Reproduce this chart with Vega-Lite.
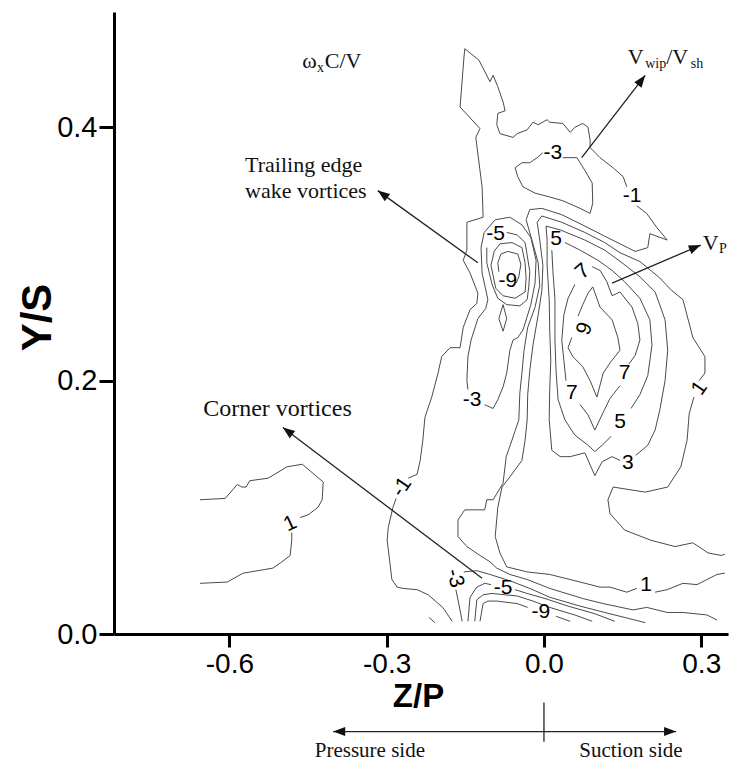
{
"$schema":"https://vega.github.io/schema/vega-lite/v6.json",
"width":614,"height":622,"autosize":{"type":"none"},
"padding":{"left":114,"top":12,"right":8,"bottom":129},
"background":"white",
"config":{"view":{"stroke":null},"axis":{"grid":false,"domainColor":"#000","domainWidth":3,"tickColor":"#000","tickWidth":3,"labelColor":"#000","labelFont":"Liberation Sans","labelFontSize":29,"titleFont":"Liberation Sans","titleColor":"#000","titleFontWeight":"bold"}},
"datasets":{
"lines":[
{"g":"c1a","o":1,"x":-0.656,"y":0.106},{"g":"c1a","o":2,"x":-0.608,"y":0.107},{"g":"c1a","o":3,"x":-0.585,"y":0.118},{"g":"c1a","o":4,"x":-0.576,"y":0.116},{"g":"c1a","o":5,"x":-0.568,"y":0.116},{"g":"c1a","o":6,"x":-0.561,"y":0.121},{"g":"c1a","o":7,"x":-0.526,"y":0.123},{"g":"c1a","o":8,"x":-0.490,"y":0.132},{"g":"c1a","o":9,"x":-0.461,"y":0.134},{"g":"c1a","o":10,"x":-0.421,"y":0.120},{"g":"c1a","o":11,"x":-0.423,"y":0.106},{"g":"c1a","o":12,"x":-0.431,"y":0.100},{"g":"c1a","o":13,"x":-0.450,"y":0.094},{"g":"c1a","o":14,"x":-0.465,"y":0.092},
{"g":"c1b","o":1,"x":-0.481,"y":0.080},{"g":"c1b","o":2,"x":-0.481,"y":0.074},{"g":"c1b","o":3,"x":-0.484,"y":0.062},{"g":"c1b","o":4,"x":-0.503,"y":0.056},{"g":"c1b","o":5,"x":-0.517,"y":0.052},{"g":"c1b","o":6,"x":-0.574,"y":0.048},{"g":"c1b","o":7,"x":-0.604,"y":0.041},{"g":"c1b","o":8,"x":-0.656,"y":0.040},
{"g":"m1a","o":1,"x":-0.175,"y":0.010},{"g":"m1a","o":2,"x":-0.193,"y":0.021},{"g":"m1a","o":3,"x":-0.221,"y":0.031},{"g":"m1a","o":4,"x":-0.242,"y":0.035},{"g":"m1a","o":5,"x":-0.269,"y":0.036},{"g":"m1a","o":6,"x":-0.280,"y":0.037},{"g":"m1a","o":7,"x":-0.290,"y":0.043},{"g":"m1a","o":8,"x":-0.299,"y":0.074},{"g":"m1a","o":9,"x":-0.297,"y":0.084},{"g":"m1a","o":10,"x":-0.288,"y":0.100},{"g":"m1a","o":11,"x":-0.282,"y":0.107},
{"g":"m1b","o":1,"x":-0.259,"y":0.123},{"g":"m1b","o":2,"x":-0.242,"y":0.126},{"g":"m1b","o":3,"x":-0.236,"y":0.137},{"g":"m1b","o":4,"x":-0.231,"y":0.153},{"g":"m1b","o":5,"x":-0.227,"y":0.171},{"g":"m1b","o":6,"x":-0.214,"y":0.187},{"g":"m1b","o":7,"x":-0.202,"y":0.206},{"g":"m1b","o":8,"x":-0.195,"y":0.219},{"g":"m1b","o":9,"x":-0.179,"y":0.226},{"g":"m1b","o":10,"x":-0.160,"y":0.226},{"g":"m1b","o":11,"x":-0.154,"y":0.242},{"g":"m1b","o":12,"x":-0.141,"y":0.256},{"g":"m1b","o":13,"x":-0.128,"y":0.261},{"g":"m1b","o":14,"x":-0.126,"y":0.269},{"g":"m1b","o":15,"x":-0.141,"y":0.285},{"g":"m1b","o":16,"x":-0.154,"y":0.295},{"g":"m1b","o":17,"x":-0.147,"y":0.303},{"g":"m1b","o":18,"x":-0.147,"y":0.325},{"g":"m1b","o":19,"x":-0.116,"y":0.329},{"g":"m1b","o":20,"x":-0.118,"y":0.353},{"g":"m1b","o":21,"x":-0.130,"y":0.392},{"g":"m1b","o":22,"x":-0.122,"y":0.399},{"g":"m1b","o":23,"x":-0.160,"y":0.416},{"g":"m1b","o":24,"x":-0.153,"y":0.453},{"g":"m1b","o":25,"x":-0.151,"y":0.462},{"g":"m1b","o":26,"x":-0.124,"y":0.453},{"g":"m1b","o":27,"x":-0.103,"y":0.436},{"g":"m1b","o":28,"x":-0.097,"y":0.441},{"g":"m1b","o":29,"x":-0.088,"y":0.432},{"g":"m1b","o":30,"x":-0.078,"y":0.420},{"g":"m1b","o":31,"x":-0.074,"y":0.413},{"g":"m1b","o":32,"x":-0.088,"y":0.411},{"g":"m1b","o":33,"x":-0.090,"y":0.402},{"g":"m1b","o":34,"x":-0.084,"y":0.395},{"g":"m1b","o":35,"x":-0.059,"y":0.392},{"g":"m1b","o":36,"x":-0.051,"y":0.395},{"g":"m1b","o":37,"x":-0.032,"y":0.398},{"g":"m1b","o":38,"x":-0.021,"y":0.404},{"g":"m1b","o":39,"x":-0.011,"y":0.402},{"g":"m1b","o":40,"x":0.006,"y":0.406},{"g":"m1b","o":41,"x":0.011,"y":0.404},{"g":"m1b","o":42,"x":0.036,"y":0.403},{"g":"m1b","o":43,"x":0.050,"y":0.396},{"g":"m1b","o":44,"x":0.059,"y":0.400},{"g":"m1b","o":45,"x":0.074,"y":0.403},{"g":"m1b","o":46,"x":0.084,"y":0.400},{"g":"m1b","o":47,"x":0.088,"y":0.390},{"g":"m1b","o":48,"x":0.088,"y":0.384},{"g":"m1b","o":49,"x":0.107,"y":0.376},{"g":"m1b","o":50,"x":0.132,"y":0.368},{"g":"m1b","o":51,"x":0.151,"y":0.361},{"g":"m1b","o":52,"x":0.158,"y":0.353},
{"g":"m1c","o":1,"x":0.177,"y":0.338},{"g":"m1c","o":2,"x":0.196,"y":0.332},{"g":"m1c","o":3,"x":0.215,"y":0.321},{"g":"m1c","o":4,"x":0.235,"y":0.311},{"g":"m1c","o":5,"x":0.202,"y":0.316},{"g":"m1c","o":6,"x":0.198,"y":0.305},{"g":"m1c","o":7,"x":0.174,"y":0.302},{"g":"m1c","o":8,"x":0.145,"y":0.308},{"g":"m1c","o":9,"x":0.116,"y":0.314},{"g":"m1c","o":10,"x":0.078,"y":0.322},{"g":"m1c","o":11,"x":0.034,"y":0.331},{"g":"m1c","o":12,"x":-0.004,"y":0.336},{"g":"m1c","o":13,"x":-0.027,"y":0.335},{"g":"m1c","o":14,"x":-0.034,"y":0.327},{"g":"m1c","o":15,"x":-0.023,"y":0.311},{"g":"m1c","o":16,"x":-0.011,"y":0.293},{"g":"m1c","o":17,"x":-0.008,"y":0.275},{"g":"m1c","o":18,"x":-0.017,"y":0.258},{"g":"m1c","o":19,"x":-0.031,"y":0.242},{"g":"m1c","o":20,"x":-0.038,"y":0.224},{"g":"m1c","o":21,"x":-0.042,"y":0.206},{"g":"m1c","o":22,"x":-0.046,"y":0.190},{"g":"m1c","o":23,"x":-0.048,"y":0.169},{"g":"m1c","o":24,"x":-0.061,"y":0.153},{"g":"m1c","o":25,"x":-0.072,"y":0.140},{"g":"m1c","o":26,"x":-0.078,"y":0.119},{"g":"m1c","o":27,"x":-0.097,"y":0.106},{"g":"m1c","o":28,"x":-0.109,"y":0.106},{"g":"m1c","o":29,"x":-0.113,"y":0.098},{"g":"m1c","o":30,"x":-0.151,"y":0.098},{"g":"m1c","o":31,"x":-0.164,"y":0.090},{"g":"m1c","o":32,"x":-0.164,"y":0.077},{"g":"m1c","o":33,"x":-0.147,"y":0.069},{"g":"m1c","o":34,"x":-0.122,"y":0.062},{"g":"m1c","o":35,"x":-0.103,"y":0.057},{"g":"m1c","o":36,"x":-0.090,"y":0.052},{"g":"m1c","o":37,"x":-0.065,"y":0.047},{"g":"m1c","o":38,"x":-0.032,"y":0.043},{"g":"m1c","o":39,"x":0.011,"y":0.036},{"g":"m1c","o":40,"x":0.074,"y":0.028},{"g":"m1c","o":41,"x":0.113,"y":0.024},{"g":"m1c","o":42,"x":0.170,"y":0.019},{"g":"m1c","o":43,"x":0.196,"y":0.021},{"g":"m1c","o":44,"x":0.235,"y":0.017},{"g":"m1c","o":45,"x":0.265,"y":0.017},{"g":"m1c","o":46,"x":0.311,"y":0.015},{"g":"m1c","o":47,"x":0.330,"y":0.011},
{"g":"p1a","o":1,"x":0.345,"y":0.048},{"g":"p1a","o":2,"x":0.330,"y":0.047},{"g":"p1a","o":3,"x":0.311,"y":0.043},{"g":"p1a","o":4,"x":0.292,"y":0.039},{"g":"p1a","o":5,"x":0.265,"y":0.040},{"g":"p1a","o":6,"x":0.235,"y":0.035},{"g":"p1a","o":7,"x":0.212,"y":0.033},
{"g":"p1b","o":1,"x":0.177,"y":0.036},{"g":"p1b","o":2,"x":0.158,"y":0.033},{"g":"p1b","o":3,"x":0.126,"y":0.037},{"g":"p1b","o":4,"x":0.107,"y":0.037},{"g":"p1b","o":5,"x":0.050,"y":0.043},{"g":"p1b","o":6,"x":0.011,"y":0.047},{"g":"p1b","o":7,"x":-0.032,"y":0.049},{"g":"p1b","o":8,"x":-0.071,"y":0.053},{"g":"p1b","o":9,"x":-0.084,"y":0.064},{"g":"p1b","o":10,"x":-0.093,"y":0.077},{"g":"p1b","o":11,"x":-0.088,"y":0.100},{"g":"p1b","o":12,"x":-0.080,"y":0.116},{"g":"p1b","o":13,"x":-0.065,"y":0.124},{"g":"p1b","o":14,"x":-0.042,"y":0.137},{"g":"p1b","o":15,"x":-0.036,"y":0.153},{"g":"p1b","o":16,"x":-0.032,"y":0.169},{"g":"p1b","o":17,"x":-0.031,"y":0.189},{"g":"p1b","o":18,"x":-0.027,"y":0.208},{"g":"p1b","o":19,"x":-0.021,"y":0.228},{"g":"p1b","o":20,"x":-0.011,"y":0.252},{"g":"p1b","o":21,"x":-0.004,"y":0.271},{"g":"p1b","o":22,"x":-0.002,"y":0.291},{"g":"p1b","o":23,"x":-0.008,"y":0.311},{"g":"p1b","o":24,"x":-0.013,"y":0.325},{"g":"p1b","o":25,"x":-0.004,"y":0.330},{"g":"p1b","o":26,"x":0.034,"y":0.325},{"g":"p1b","o":27,"x":0.078,"y":0.317},{"g":"p1b","o":28,"x":0.116,"y":0.309},{"g":"p1b","o":29,"x":0.145,"y":0.301},{"g":"p1b","o":30,"x":0.183,"y":0.294},{"g":"p1b","o":31,"x":0.221,"y":0.281},{"g":"p1b","o":32,"x":0.244,"y":0.271},{"g":"p1b","o":33,"x":0.265,"y":0.264},{"g":"p1b","o":34,"x":0.284,"y":0.234},{"g":"p1b","o":35,"x":0.307,"y":0.219},{"g":"p1b","o":36,"x":0.307,"y":0.206},{"g":"p1b","o":37,"x":0.296,"y":0.200},
{"g":"p1c","o":1,"x":0.286,"y":0.187},{"g":"p1c","o":2,"x":0.277,"y":0.174},{"g":"p1c","o":3,"x":0.273,"y":0.153},{"g":"p1c","o":4,"x":0.261,"y":0.132},{"g":"p1c","o":5,"x":0.236,"y":0.116},{"g":"p1c","o":6,"x":0.193,"y":0.112},{"g":"p1c","o":7,"x":0.132,"y":0.116},{"g":"p1c","o":8,"x":0.122,"y":0.106},{"g":"p1c","o":9,"x":0.126,"y":0.095},{"g":"p1c","o":10,"x":0.154,"y":0.082},{"g":"p1c","o":11,"x":0.204,"y":0.074},{"g":"p1c","o":12,"x":0.250,"y":0.069},{"g":"p1c","o":13,"x":0.284,"y":0.072},{"g":"p1c","o":14,"x":0.313,"y":0.064},{"g":"p1c","o":15,"x":0.338,"y":0.062},{"g":"p1c","o":16,"x":0.345,"y":0.063},
{"g":"p3","o":1,"x":0.175,"y":0.141},{"g":"p3","o":2,"x":0.198,"y":0.149},{"g":"p3","o":3,"x":0.212,"y":0.161},{"g":"p3","o":4,"x":0.221,"y":0.177},{"g":"p3","o":5,"x":0.231,"y":0.200},{"g":"p3","o":6,"x":0.236,"y":0.224},{"g":"p3","o":7,"x":0.231,"y":0.248},{"g":"p3","o":8,"x":0.212,"y":0.270},{"g":"p3","o":9,"x":0.183,"y":0.282},{"g":"p3","o":10,"x":0.149,"y":0.293},{"g":"p3","o":11,"x":0.116,"y":0.303},{"g":"p3","o":12,"x":0.078,"y":0.311},{"g":"p3","o":13,"x":0.031,"y":0.319},{"g":"p3","o":14,"x":0.004,"y":0.322},{"g":"p3","o":15,"x":0.006,"y":0.311},{"g":"p3","o":16,"x":0.006,"y":0.291},{"g":"p3","o":17,"x":0.010,"y":0.264},{"g":"p3","o":18,"x":0.011,"y":0.240},{"g":"p3","o":19,"x":0.013,"y":0.216},{"g":"p3","o":20,"x":0.011,"y":0.193},{"g":"p3","o":21,"x":0.010,"y":0.169},{"g":"p3","o":22,"x":0.015,"y":0.145},{"g":"p3","o":23,"x":0.031,"y":0.140},{"g":"p3","o":24,"x":0.050,"y":0.140},{"g":"p3","o":25,"x":0.078,"y":0.143},{"g":"p3","o":26,"x":0.097,"y":0.125},{"g":"p3","o":27,"x":0.111,"y":0.136},{"g":"p3","o":28,"x":0.130,"y":0.140},{"g":"p3","o":29,"x":0.145,"y":0.137},
{"g":"p5a","o":1,"x":0.040,"y":0.309},{"g":"p5a","o":2,"x":0.069,"y":0.303},{"g":"p5a","o":3,"x":0.103,"y":0.295},{"g":"p5a","o":4,"x":0.130,"y":0.287},{"g":"p5a","o":5,"x":0.154,"y":0.278},{"g":"p5a","o":6,"x":0.183,"y":0.265},{"g":"p5a","o":7,"x":0.202,"y":0.248},{"g":"p5a","o":8,"x":0.206,"y":0.228},{"g":"p5a","o":9,"x":0.198,"y":0.204},{"g":"p5a","o":10,"x":0.183,"y":0.189},{"g":"p5a","o":11,"x":0.166,"y":0.178},
{"g":"p5b","o":1,"x":0.128,"y":0.156},{"g":"p5b","o":2,"x":0.111,"y":0.149},{"g":"p5b","o":3,"x":0.097,"y":0.144},{"g":"p5b","o":4,"x":0.084,"y":0.149},{"g":"p5b","o":5,"x":0.059,"y":0.157},{"g":"p5b","o":6,"x":0.040,"y":0.169},{"g":"p5b","o":7,"x":0.027,"y":0.185},{"g":"p5b","o":8,"x":0.023,"y":0.208},{"g":"p5b","o":9,"x":0.021,"y":0.232},{"g":"p5b","o":10,"x":0.021,"y":0.264},{"g":"p5b","o":11,"x":0.017,"y":0.287},{"g":"p5b","o":12,"x":0.015,"y":0.303},
{"g":"p7a","o":1,"x":0.092,"y":0.290},{"g":"p7a","o":2,"x":0.107,"y":0.287},{"g":"p7a","o":3,"x":0.120,"y":0.278},{"g":"p7a","o":4,"x":0.130,"y":0.267},{"g":"p7a","o":5,"x":0.145,"y":0.270},{"g":"p7a","o":6,"x":0.168,"y":0.258},{"g":"p7a","o":7,"x":0.179,"y":0.245},{"g":"p7a","o":8,"x":0.183,"y":0.232},{"g":"p7a","o":9,"x":0.174,"y":0.220},{"g":"p7a","o":10,"x":0.162,"y":0.213},
{"g":"p7b","o":1,"x":0.145,"y":0.196},{"g":"p7b","o":2,"x":0.126,"y":0.186},{"g":"p7b","o":3,"x":0.113,"y":0.175},{"g":"p7b","o":4,"x":0.097,"y":0.161},{"g":"p7b","o":5,"x":0.084,"y":0.173},{"g":"p7b","o":6,"x":0.069,"y":0.181},
{"g":"p7c","o":1,"x":0.042,"y":0.200},{"g":"p7c","o":2,"x":0.038,"y":0.216},{"g":"p7c","o":3,"x":0.034,"y":0.232},{"g":"p7c","o":4,"x":0.038,"y":0.252},{"g":"p7c","o":5,"x":0.046,"y":0.265},{"g":"p7c","o":6,"x":0.059,"y":0.276},
{"g":"p9","o":1,"x":0.065,"y":0.251},{"g":"p9","o":2,"x":0.074,"y":0.260},{"g":"p9","o":3,"x":0.084,"y":0.269},{"g":"p9","o":4,"x":0.093,"y":0.274},{"g":"p9","o":5,"x":0.107,"y":0.258},{"g":"p9","o":6,"x":0.130,"y":0.248},{"g":"p9","o":7,"x":0.141,"y":0.234},{"g":"p9","o":8,"x":0.145,"y":0.224},{"g":"p9","o":9,"x":0.126,"y":0.214},{"g":"p9","o":10,"x":0.113,"y":0.206},{"g":"p9","o":11,"x":0.101,"y":0.187},{"g":"p9","o":12,"x":0.088,"y":0.200},{"g":"p9","o":13,"x":0.074,"y":0.211},{"g":"p9","o":14,"x":0.055,"y":0.219},{"g":"p9","o":15,"x":0.046,"y":0.226},{"g":"p9","o":16,"x":0.053,"y":0.234},
{"g":"m5","o":1,"x":-0.071,"y":0.317},{"g":"m5","o":2,"x":-0.051,"y":0.315},{"g":"m5","o":3,"x":-0.036,"y":0.309},{"g":"m5","o":4,"x":-0.032,"y":0.299},{"g":"m5","o":5,"x":-0.027,"y":0.286},{"g":"m5","o":6,"x":-0.029,"y":0.274},{"g":"m5","o":7,"x":-0.032,"y":0.264},{"g":"m5","o":8,"x":-0.046,"y":0.259},{"g":"m5","o":9,"x":-0.071,"y":0.260},{"g":"m5","o":10,"x":-0.088,"y":0.265},{"g":"m5","o":11,"x":-0.099,"y":0.276},{"g":"m5","o":12,"x":-0.109,"y":0.293},{"g":"m5","o":13,"x":-0.109,"y":0.305},
{"g":"m7","o":1,"x":-0.084,"y":0.308},{"g":"m7","o":2,"x":-0.061,"y":0.309},{"g":"m7","o":3,"x":-0.042,"y":0.305},{"g":"m7","o":4,"x":-0.036,"y":0.293},{"g":"m7","o":5,"x":-0.034,"y":0.281},{"g":"m7","o":6,"x":-0.036,"y":0.270},{"g":"m7","o":7,"x":-0.055,"y":0.265},{"g":"m7","o":8,"x":-0.078,"y":0.267},{"g":"m7","o":9,"x":-0.092,"y":0.273},{"g":"m7","o":10,"x":-0.101,"y":0.291},{"g":"m7","o":11,"x":-0.095,"y":0.302},{"g":"m7","o":12,"x":-0.084,"y":0.308},
{"g":"m9","o":1,"x":-0.053,"y":0.277},{"g":"m9","o":2,"x":-0.048,"y":0.282},{"g":"m9","o":3,"x":-0.044,"y":0.292},{"g":"m9","o":4,"x":-0.050,"y":0.300},{"g":"m9","o":5,"x":-0.069,"y":0.302},{"g":"m9","o":6,"x":-0.082,"y":0.300},{"g":"m9","o":7,"x":-0.088,"y":0.293},{"g":"m9","o":8,"x":-0.086,"y":0.286},
{"g":"dm","o":1,"x":-0.078,"y":0.260},{"g":"dm","o":2,"x":-0.071,"y":0.249},{"g":"dm","o":3,"x":-0.078,"y":0.239},{"g":"dm","o":4,"x":-0.086,"y":0.249},{"g":"dm","o":5,"x":-0.078,"y":0.260},
{"g":"m3","o":1,"x":-0.113,"y":0.181},{"g":"m3","o":2,"x":-0.097,"y":0.178},{"g":"m3","o":3,"x":-0.088,"y":0.185},{"g":"m3","o":4,"x":-0.078,"y":0.195},{"g":"m3","o":5,"x":-0.071,"y":0.206},{"g":"m3","o":6,"x":-0.065,"y":0.224},{"g":"m3","o":7,"x":-0.059,"y":0.232},{"g":"m3","o":8,"x":-0.050,"y":0.234},{"g":"m3","o":9,"x":-0.040,"y":0.240},{"g":"m3","o":10,"x":-0.025,"y":0.260},{"g":"m3","o":11,"x":-0.017,"y":0.277},{"g":"m3","o":12,"x":-0.015,"y":0.295},{"g":"m3","o":13,"x":-0.025,"y":0.313},{"g":"m3","o":14,"x":-0.042,"y":0.323},{"g":"m3","o":15,"x":-0.065,"y":0.329},{"g":"m3","o":16,"x":-0.093,"y":0.327},{"g":"m3","o":17,"x":-0.114,"y":0.317},{"g":"m3","o":18,"x":-0.120,"y":0.305},{"g":"m3","o":19,"x":-0.118,"y":0.285},{"g":"m3","o":20,"x":-0.107,"y":0.264},{"g":"m3","o":21,"x":-0.111,"y":0.257},{"g":"m3","o":22,"x":-0.126,"y":0.249},{"g":"m3","o":23,"x":-0.139,"y":0.232},{"g":"m3","o":24,"x":-0.145,"y":0.219},{"g":"m3","o":25,"x":-0.147,"y":0.200},{"g":"m3","o":26,"x":-0.145,"y":0.193},
{"g":"u3","o":1,"x":0.036,"y":0.376},{"g":"u3","o":2,"x":0.063,"y":0.376},{"g":"u3","o":3,"x":0.078,"y":0.366},{"g":"u3","o":4,"x":0.092,"y":0.356},{"g":"u3","o":5,"x":0.093,"y":0.340},{"g":"u3","o":6,"x":0.088,"y":0.332},{"g":"u3","o":7,"x":0.069,"y":0.336},{"g":"u3","o":8,"x":0.036,"y":0.342},{"g":"u3","o":9,"x":0.011,"y":0.345},{"g":"u3","o":10,"x":-0.017,"y":0.348},{"g":"u3","o":11,"x":-0.040,"y":0.353},{"g":"u3","o":12,"x":-0.050,"y":0.361},{"g":"u3","o":13,"x":-0.055,"y":0.368},{"g":"u3","o":14,"x":-0.042,"y":0.372},{"g":"u3","o":15,"x":-0.027,"y":0.372},{"g":"u3","o":16,"x":-0.013,"y":0.376},{"g":"u3","o":17,"x":-0.002,"y":0.380},
{"g":"k3a","o":1,"x":-0.168,"y":0.035},{"g":"k3a","o":2,"x":-0.162,"y":0.023},{"g":"k3a","o":3,"x":-0.156,"y":0.010},
{"g":"k3b","o":1,"x":-0.153,"y":0.049},{"g":"k3b","o":2,"x":-0.128,"y":0.050},{"g":"k3b","o":3,"x":-0.103,"y":0.047},{"g":"k3b","o":4,"x":-0.065,"y":0.042},{"g":"k3b","o":5,"x":-0.027,"y":0.036},{"g":"k3b","o":6,"x":0.011,"y":0.029},{"g":"k3b","o":7,"x":0.069,"y":0.022},{"g":"k3b","o":8,"x":0.116,"y":0.017},{"g":"k3b","o":9,"x":0.164,"y":0.012},{"g":"k3b","o":10,"x":0.193,"y":0.009},
{"g":"k5a","o":1,"x":-0.145,"y":0.010},{"g":"k5a","o":2,"x":-0.141,"y":0.029},{"g":"k5a","o":3,"x":-0.128,"y":0.037},{"g":"k5a","o":4,"x":-0.113,"y":0.040},{"g":"k5a","o":5,"x":-0.101,"y":0.039},
{"g":"k5b","o":1,"x":-0.055,"y":0.035},{"g":"k5b","o":2,"x":-0.032,"y":0.032},{"g":"k5b","o":3,"x":0.002,"y":0.028},{"g":"k5b","o":4,"x":0.046,"y":0.022},{"g":"k5b","o":5,"x":0.097,"y":0.016},{"g":"k5b","o":6,"x":0.135,"y":0.010},
{"g":"k7","o":1,"x":-0.132,"y":0.010},{"g":"k7","o":2,"x":-0.128,"y":0.027},{"g":"k7","o":3,"x":-0.116,"y":0.031},{"g":"k7","o":4,"x":-0.099,"y":0.032},{"g":"k7","o":5,"x":-0.051,"y":0.030},{"g":"k7","o":6,"x":-0.021,"y":0.026},{"g":"k7","o":7,"x":0.011,"y":0.021},{"g":"k7","o":8,"x":0.059,"y":0.015},{"g":"k7","o":9,"x":0.092,"y":0.010},
{"g":"k9a","o":1,"x":-0.122,"y":0.010},{"g":"k9a","o":2,"x":-0.116,"y":0.024},{"g":"k9a","o":3,"x":-0.107,"y":0.026},{"g":"k9a","o":4,"x":-0.090,"y":0.026},{"g":"k9a","o":5,"x":-0.051,"y":0.024},{"g":"k9a","o":6,"x":-0.031,"y":0.021},
{"g":"k9b","o":1,"x":0.023,"y":0.014},{"g":"k9b","o":2,"x":0.050,"y":0.010},
{"g":"tn","o":1,"x":-0.219,"y":0.013},{"g":"tn","o":2,"x":-0.208,"y":0.009}
],
"labels":[
{"id":"a1","t":"1","x":-0.484,"y":0.087},{"id":"a2","t":"-1","x":-0.271,"y":0.116},{"id":"a3","t":"-1","x":0.168,"y":0.346},{"id":"a4","t":"-3","x":0.017,"y":0.380},{"id":"a5","t":"-5","x":-0.092,"y":0.316},{"id":"a6","t":"-9","x":-0.069,"y":0.279},{"id":"a7","t":"5","x":0.023,"y":0.312},{"id":"a8","t":"7","x":0.074,"y":0.286},{"id":"a9","t":"9","x":0.078,"y":0.241},{"id":"a10","t":"7","x":0.154,"y":0.206},{"id":"a11","t":"7","x":0.053,"y":0.190},{"id":"a12","t":"5","x":0.145,"y":0.167},{"id":"a13","t":"1","x":0.297,"y":0.194},{"id":"a14","t":"3","x":0.160,"y":0.135},{"id":"a15","t":"-3","x":-0.137,"y":0.185},{"id":"a16","t":"1","x":0.195,"y":0.039},{"id":"a17","t":"-3","x":-0.170,"y":0.044},{"id":"a18","t":"-5","x":-0.078,"y":0.036},{"id":"a19","t":"-9","x":-0.006,"y":0.017}
],
"notes":[
{"id":"n1","t":"Trailing edge","x":-0.570,"y":0.365},{"id":"n2","t":"wake vortices","x":-0.570,"y":0.344},{"id":"n3","t":"Corner vortices","x":-0.650,"y":0.172},
{"id":"n6","t":"ω","x":-0.461,"y":0.447},{"id":"n7","t":"C/V","x":-0.418,"y":0.447},{"id":"n8","t":"V","x":0.160,"y":0.450},{"id":"n9","t":"/V","x":0.233,"y":0.450},{"id":"n10","t":"V","x":0.303,"y":0.303},
{"id":"s1","t":"x","x":-0.433,"y":0.444},{"id":"s2","t":"wip","x":0.193,"y":0.447},{"id":"s3","t":"sh","x":0.280,"y":0.447},{"id":"s4","t":"P","x":0.334,"y":0.301},
{"id":"c1","t":"Pressure side","x":-0.332,"y":-0.097},{"id":"c2","t":"Suction side","x":0.166,"y":-0.097}
],
"arrows":[
{"id":"A1","o":1,"x":-0.126,"y":0.293},{"id":"A1","o":2,"x":-0.317,"y":0.350},
{"id":"A2","o":1,"x":0.072,"y":0.376},{"id":"A2","o":2,"x":0.193,"y":0.441},
{"id":"A3","o":1,"x":0.130,"y":0.277},{"id":"A3","o":2,"x":0.299,"y":0.307},
{"id":"A4","o":1,"x":-0.118,"y":0.044},{"id":"A4","o":2,"x":-0.498,"y":0.163},
{"id":"A5","o":1,"x":0,"y":-0.077},{"id":"A5","o":2,"x":-0.402,"y":-0.077},
{"id":"A6","o":1,"x":0,"y":-0.077},{"id":"A6","o":2,"x":0.252,"y":-0.077},
{"id":"A7","o":1,"x":0,"y":-0.054},{"id":"A7","o":2,"x":0,"y":-0.085}
],
"heads":[
{"id":"H1","x":-0.317,"y":0.350},{"id":"H2","x":0.193,"y":0.441},{"id":"H3","x":0.299,"y":0.307},{"id":"H4","x":-0.498,"y":0.163},{"id":"H5","x":-0.402,"y":-0.077},{"id":"H6","x":0.252,"y":-0.077}
]
},
"layer":[
{"data":{"name":"lines"},"mark":{"type":"line","color":"#4a4a4a","strokeWidth":1},
 "encoding":{
  "x":{"field":"x","type":"quantitative","scale":{"domain":[-0.82,0.351],"nice":false,"zero":false},
   "axis":{"values":[-0.6,-0.3,0,0.3],"labelExpr":"datum.value < 0 ? '-' + format(-datum.value, '.1f') : format(datum.value, '.1f')","tickSize":13,"labelPadding":3,"labelFontSize":28,"title":"Z/P","titleFontSize":33,"titleX":304,"titleY":72,"titleBaseline":"alphabetic","titleAlign":"center"}},
  "y":{"field":"y","type":"quantitative","scale":{"domain":[0,0.491],"nice":false,"zero":false},
   "axis":{"values":[0,0.2,0.4],"labelExpr":"format(datum.value, '.1f')","tickSize":15,"labelPadding":2,"title":"Y/S","titleFontSize":42,"titleAngle":-90,"titleX":-64,"titleY":305,"titleBaseline":"alphabetic","titleAlign":"center"}},
  "detail":{"field":"g"},"order":{"field":"o","type":"quantitative"}}},
{"data":{"name":"arrows"},"mark":{"type":"line","color":"#222","strokeWidth":1.3},
 "encoding":{"x":{"field":"x","type":"quantitative"},"y":{"field":"y","type":"quantitative"},"detail":{"field":"id"},"order":{"field":"o","type":"quantitative"}}},
{"data":{"name":"heads"},"transform":[{"filter":"datum.id=='H1'"}],"mark":{"type":"point","shape":"M0,0L-0.38,1L0.38,1Z","size":576,"filled":true,"opacity":1,"color":"#111","angle":-54},"encoding":{"x":{"field":"x","type":"quantitative"},"y":{"field":"y","type":"quantitative"}}},
{"data":{"name":"heads"},"transform":[{"filter":"datum.id=='H2'"}],"mark":{"type":"point","shape":"M0,0L-0.38,1L0.38,1Z","size":576,"filled":true,"opacity":1,"color":"#111","angle":37},"encoding":{"x":{"field":"x","type":"quantitative"},"y":{"field":"y","type":"quantitative"}}},
{"data":{"name":"heads"},"transform":[{"filter":"datum.id=='H3'"}],"mark":{"type":"point","shape":"M0,0L-0.38,1L0.38,1Z","size":576,"filled":true,"opacity":1,"color":"#111","angle":67},"encoding":{"x":{"field":"x","type":"quantitative"},"y":{"field":"y","type":"quantitative"}}},
{"data":{"name":"heads"},"transform":[{"filter":"datum.id=='H4'"}],"mark":{"type":"point","shape":"M0,0L-0.38,1L0.38,1Z","size":576,"filled":true,"opacity":1,"color":"#111","angle":-53},"encoding":{"x":{"field":"x","type":"quantitative"},"y":{"field":"y","type":"quantitative"}}},
{"data":{"name":"heads"},"transform":[{"filter":"datum.id=='H5'"}],"mark":{"type":"point","shape":"M0,0L-0.38,1L0.38,1Z","size":576,"filled":true,"opacity":1,"color":"#111","angle":-90},"encoding":{"x":{"field":"x","type":"quantitative"},"y":{"field":"y","type":"quantitative"}}},
{"data":{"name":"heads"},"transform":[{"filter":"datum.id=='H6'"}],"mark":{"type":"point","shape":"M0,0L-0.38,1L0.38,1Z","size":576,"filled":true,"opacity":1,"color":"#111","angle":90},"encoding":{"x":{"field":"x","type":"quantitative"},"y":{"field":"y","type":"quantitative"}}},
{"data":{"name":"labels"},"transform":[{"filter":"indexof(['a1','a2','a8','a9','a13','a17'], datum.id) < 0"}],"mark":{"type":"text","font":"Liberation Sans","fontSize":21,"color":"#000","align":"center","baseline":"middle"},"encoding":{"x":{"field":"x","type":"quantitative"},"y":{"field":"y","type":"quantitative"},"text":{"field":"t"}}},
{"data":{"name":"labels"},"transform":[{"filter":"datum.id=='a1'"}],"mark":{"type":"text","font":"Liberation Sans","fontSize":21,"color":"#000","align":"center","baseline":"middle","angle":-25},"encoding":{"x":{"field":"x","type":"quantitative"},"y":{"field":"y","type":"quantitative"},"text":{"field":"t"}}},
{"data":{"name":"labels"},"transform":[{"filter":"datum.id=='a2' || datum.id=='a13'"}],"mark":{"type":"text","font":"Liberation Sans","fontSize":21,"color":"#000","align":"center","baseline":"middle","angle":-55},"encoding":{"x":{"field":"x","type":"quantitative"},"y":{"field":"y","type":"quantitative"},"text":{"field":"t"}}},
{"data":{"name":"labels"},"transform":[{"filter":"datum.id=='a8'"}],"mark":{"type":"text","font":"Liberation Sans","fontSize":21,"color":"#000","align":"center","baseline":"middle","angle":-40},"encoding":{"x":{"field":"x","type":"quantitative"},"y":{"field":"y","type":"quantitative"},"text":{"field":"t"}}},
{"data":{"name":"labels"},"transform":[{"filter":"datum.id=='a9'"}],"mark":{"type":"text","font":"Liberation Sans","fontSize":21,"color":"#000","align":"center","baseline":"middle","angle":-70},"encoding":{"x":{"field":"x","type":"quantitative"},"y":{"field":"y","type":"quantitative"},"text":{"field":"t"}}},
{"data":{"name":"labels"},"transform":[{"filter":"datum.id=='a17'"}],"mark":{"type":"text","font":"Liberation Sans","fontSize":21,"color":"#000","align":"center","baseline":"middle","angle":75},"encoding":{"x":{"field":"x","type":"quantitative"},"y":{"field":"y","type":"quantitative"},"text":{"field":"t"}}},
{"data":{"name":"notes"},"transform":[{"filter":"datum.id=='n1' || datum.id=='n2'"}],"mark":{"type":"text","font":"Liberation Serif","fontSize":22,"color":"#111","align":"left","baseline":"alphabetic"},"encoding":{"x":{"field":"x","type":"quantitative"},"y":{"field":"y","type":"quantitative"},"text":{"field":"t"}}},
{"data":{"name":"notes"},"transform":[{"filter":"datum.id=='n3'"}],"mark":{"type":"text","font":"Liberation Serif","fontSize":24,"color":"#111","align":"left","baseline":"alphabetic"},"encoding":{"x":{"field":"x","type":"quantitative"},"y":{"field":"y","type":"quantitative"},"text":{"field":"t"}}},
{"data":{"name":"notes"},"transform":[{"filter":"indexof(['n6','n7','n8','n9','n10'], datum.id) >= 0"}],"mark":{"type":"text","font":"Liberation Serif","fontSize":22,"color":"#111","align":"left","baseline":"alphabetic"},"encoding":{"x":{"field":"x","type":"quantitative"},"y":{"field":"y","type":"quantitative"},"text":{"field":"t"}}},
{"data":{"name":"notes"},"transform":[{"filter":"indexof(['s1','s2','s3','s4'], datum.id) >= 0"}],"mark":{"type":"text","font":"Liberation Serif","fontSize":14,"color":"#111","align":"left","baseline":"alphabetic"},"encoding":{"x":{"field":"x","type":"quantitative"},"y":{"field":"y","type":"quantitative"},"text":{"field":"t"}}},
{"data":{"name":"notes"},"transform":[{"filter":"datum.id=='c1' || datum.id=='c2'"}],"mark":{"type":"text","font":"Liberation Serif","fontSize":21,"color":"#111","align":"center","baseline":"alphabetic"},"encoding":{"x":{"field":"x","type":"quantitative"},"y":{"field":"y","type":"quantitative"},"text":{"field":"t"}}}
]
}
